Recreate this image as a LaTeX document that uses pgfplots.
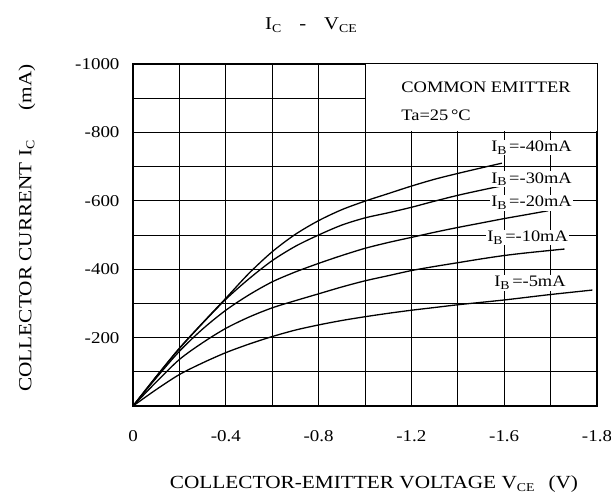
\documentclass[border=0pt]{standalone}
\usepackage{fontspec}
\setmainfont{Liberation Serif}[FakeStretch=1.15]
\usepackage{pgfplots}
\pgfplotsset{compat=1.18}
\newcommand{\sub}[1]{\raisebox{-0.35ex}{\fontsize{12bp}{12bp}\selectfont #1}}

\begin{document}
\begin{tikzpicture}[font=\fontsize{16bp}{19bp}\selectfont,
  curve/.style={black, line width=1.3bp, no marks, smooth}]
\begin{axis}[
  set layers,
  scale only axis, width=464bp, height=342bp,
  xmin=-2, xmax=0, ymin=-1000, ymax=0,
  x dir=reverse, y dir=reverse,
  xtick={0,-0.2,-0.4,-0.6,-0.8,-1,-1.2,-1.4,-1.6,-1.8,-2},
  xticklabels={0,,-0.4,,-0.8,,-1.2,,-1.6,,-1.8},
  ytick={-1000,-900,-800,-700,-600,-500,-400,-300,-200,-100},
  yticklabels={-1000,,-800,,-600,,-400,,-200,},
  grid=major, major grid style={black, line width=0.8bp},
  major tick length=0pt,
  axis line style={line width=1.6bp},
  /pgf/number format/assume math mode=true,
  tick label style={font=\fontsize{16.5bp}{19bp}\selectfont},
  xticklabel style={yshift=-21bp},
  yticklabel style={xshift=-10bp},
]
% box for the conditions text
\fill[white] (axis cs:-1.006,-1000) rectangle (axis cs:-2,-803);

% IB = -40 mA
\addplot[curve] table {
0 0
-0.1 -86
-0.2 -169
-0.3 -243
-0.4 -315
-0.5 -388
-0.6 -451
-0.7 -502
-0.8 -542
-0.9 -574
-1.0 -599
-1.1 -621
-1.2 -643
-1.3 -663
-1.4 -680
-1.5 -696
-1.59 -710
};
% IB = -30 mA
\addplot[curve] table {
0 0
-0.1 -86
-0.2 -168
-0.3 -242
-0.4 -312
-0.5 -372
-0.6 -425
-0.7 -467
-0.8 -500
-0.9 -529
-1.0 -550
-1.1 -565
-1.2 -581
-1.3 -599
-1.4 -616
-1.5 -631
-1.6 -645
-1.69 -656
};
% IB = -20 mA
\addplot[curve] table {
0 0
-0.1 -82
-0.2 -160
-0.3 -225
-0.4 -280
-0.5 -325
-0.6 -363
-0.7 -392
-0.8 -417
-0.9 -440
-1.0 -461
-1.1 -478
-1.2 -493
-1.3 -508
-1.4 -522
-1.5 -535
-1.6 -548
-1.7 -560
-1.79 -571
};
% IB = -10 mA
\addplot[curve] table {
0 0
-0.1 -70
-0.2 -136
-0.3 -185
-0.4 -227
-0.5 -260
-0.6 -287
-0.7 -308
-0.8 -328
-0.9 -348
-1.0 -366
-1.1 -381
-1.2 -396
-1.3 -408
-1.4 -419
-1.5 -430
-1.6 -440
-1.7 -448
-1.86 -459
};
% IB = -5 mA
\addplot[curve] table {
0 0
-0.1 -48
-0.2 -92
-0.3 -126
-0.4 -156
-0.5 -181
-0.6 -203
-0.7 -222
-0.8 -237
-0.9 -250
-1.0 -261
-1.1 -271
-1.2 -280
-1.3 -288
-1.4 -296
-1.5 -303
-1.6 -310
-1.7 -318
-1.8 -326
-1.98 -339
};

\node[anchor=base west] at (axis cs:-1.142,-918) {COMMON EMITTER};
\node[anchor=base west] at (axis cs:-1.142,-836) {Ta=25\,°C};
\tikzset{ib/.style={anchor=base west, fill=white, inner sep=1bp}}
\node[ib] at (axis cs:-1.539,-743) {I\sub{B}\,=-40mA};
\node[ib] at (axis cs:-1.539,-652) {I\sub{B}\,=-30mA};
\node[ib] at (axis cs:-1.539,-582) {I\sub{B}\,=-20mA};
\node[ib] at (axis cs:-1.522,-480) {I\sub{B}\,=-10mA};
\node[ib] at (axis cs:-1.552,-348) {I\sub{B}\,=-5mA};
\end{axis}

\node[font=\fontsize{18bp}{20bp}\selectfont]
  at ([shift={(178bp,381bp)}]current axis.south west)
  {I\sub{C}\quad-\quad V\sub{CE}};
\node[rotate=90, font=\fontsize{18.5bp}{20bp}\selectfont]
  at ([shift={(-106bp,178bp)}]current axis.south west)
  {COLLECTOR CURRENT I\sub{C}\hspace{30bp}(mA)};
\node[font=\fontsize{18.5bp}{20bp}\selectfont]
  at ([shift={(241bp,-78bp)}]current axis.south west)
  {COLLECTOR-EMITTER VOLTAGE V\sub{CE}\hspace{14bp}(V)};

\pgfresetboundingbox
\path[use as bounding box] ([shift={(-133bp,-93bp)}]current axis.south west) rectangle ([shift={(14bp,64bp)}]current axis.north east);
\end{tikzpicture}
\end{document}
